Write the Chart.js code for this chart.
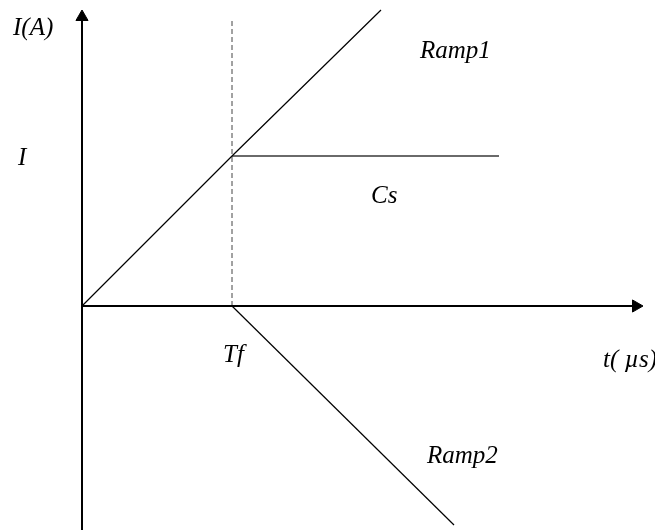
<!DOCTYPE html>
<html>
<head>
<meta charset="utf-8">
<script src="https://cdn.jsdelivr.net/npm/chart.js@4"></script>
<style>
  html, body { margin: 0; padding: 0; background: #fff; }
  #c { display: block; }
</style>
</head>
<body>
<canvas id="c" width="655" height="530"></canvas>
<script>
// Time axis (t, µs) and current axis (I, A), in plot units
const ramp1T = [0, 150, 299];
const ramp1I = [0, 150, 296];
const csT = [150, 417];
const csI = [150, 150];
const tfT = [150, 150];
const tfI = [0, 286];
const ramp2T = [150, 372];
const ramp2I = [0, -219];
const axisXT = [0, 554];
const axisXI = [0, 0];
const axisYT = [0, 0];
const axisYI = [-224, 289];

const pts = (xs, ys) => xs.map((x, i) => ({ x, y: ys[i] }));

// Text labels placed in data units
const FONT = 'italic 25px "Liberation Serif"';
const labels = [
  { text: 'I(A)',  x: -69, y: 271 },
  { text: 'I',     x: -64, y: 141 },
  { text: 'Ramp1', x: 338, y: 248 },
  { text: 'Cs',    x: 289, y: 103 },
  { text: 'Tf',    x: 141, y: -56 },
  { text: 't( \u00B5s)', x: 521, y: -61 },
  { text: 'Ramp2', x: 345, y: -157 }
];

const labelPlugin = {
  id: 'labelPlugin',
  afterDatasetsDraw(chart) {
    const { ctx, scales } = chart;
    ctx.save();
    ctx.fillStyle = '#000';
    ctx.textBaseline = 'alphabetic';
    ctx.textAlign = 'left';
    ctx.font = FONT;
    labels.forEach(l => {
      ctx.fillText(l.text, scales.x.getPixelForValue(l.x), scales.y.getPixelForValue(l.y));
    });
    ctx.restore();
  }
};

const line = (data, extra) => Object.assign({
  data, showLine: true, pointRadius: 0, borderColor: '#000',
  borderWidth: 1, fill: false, clip: false, tension: 0
}, extra);

new Chart(document.getElementById('c'), {
  type: 'scatter',
  data: {
    datasets: [
      line(pts(axisXT, axisXI), { borderWidth: 2 }),
      line(pts(axisYT, axisYI), { borderWidth: 2 }),
      line(pts(ramp1T, ramp1I), { borderWidth: 1.2 }),
      line(pts(csT, csI), { borderColor: '#6a6a6a', borderWidth: 2 }),
      line(pts(tfT, tfI), { borderColor: '#444', borderWidth: 1, borderDash: [5, 3] }),
      line(pts(ramp2T, ramp2I), { borderWidth: 1.2 }),
      // arrow heads
      { data: [{ x: axisXT[1], y: 0 }], showLine: false, pointStyle: 'triangle',
        rotation: 90, pointRadius: 7, backgroundColor: '#000', borderColor: '#000',
        borderWidth: 1, clip: false },
      { data: [{ x: 0, y: axisYI[1] }], showLine: false, pointStyle: 'triangle',
        rotation: 0, pointRadius: 7, backgroundColor: '#000', borderColor: '#000',
        borderWidth: 1, clip: false }
    ]
  },
  options: {
    responsive: false,
    animation: false,
    layout: { padding: 0, autoPadding: false },
    events: [],
    scales: {
      x: { type: 'linear', min: -82, max: 573, display: false },
      y: { type: 'linear', min: -224, max: 306, display: false }
    },
    plugins: { legend: { display: false }, tooltip: { enabled: false } }
  },
  plugins: [labelPlugin]
});
</script>
</body>
</html>
